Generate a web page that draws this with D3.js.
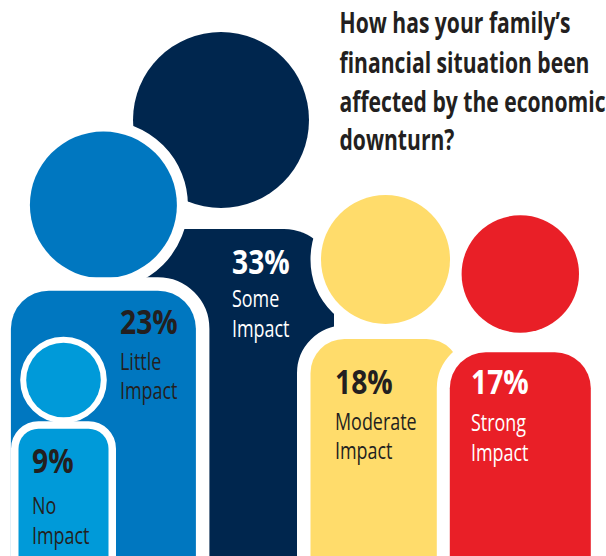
<!DOCTYPE html>
<html>
<head>
<meta charset="utf-8">
<script src="https://cdn.jsdelivr.net/npm/d3@7/dist/d3.min.js"></script>
<style>
  html, body { margin: 0; padding: 0; background: #fff; }
  svg { display: block; }
  text { font-family: "Open Sans", sans-serif; }
</style>
</head>
<body>
<div id="chart"></div>
<script>
// Survey responses, one figure per answer
const categories = ["Some Impact", "Moderate Impact", "Strong Impact", "Little Impact", "No Impact"];
const shares = [33, 18, 17, 23, 9];
const titleLines = ["How has your family\u2019s", "financial situation been", "affected by the economic", "downturn?"];

const W = 606, H = 556;
const svg = d3.select("#chart").append("svg").attr("width", W).attr("height", H);

// Figure size follows the share of respondents
const sizeDomain = [9, 17, 18, 23, 33];
const headRadius = d3.scaleLinear().domain(sizeDomain).range([37.3, 58.7, 64.5, 73.5, 88]);
const bodyWidth = d3.scaleLinear().domain(sizeDomain).range([90, 141, 150, 185, 226]);
const cornerRadius = d3.scaleLinear().domain(sizeDomain).range([20, 36, 34, 38, 50]);

// Placement of each figure within the group
const headX = d3.scaleOrdinal().domain(categories).range([221, 385.5, 520.3, 103.4, 63.5]);
const headY = d3.scaleOrdinal().domain(categories).range([120, 259.5, 274, 205, 380]);
const bodyTop = d3.scaleOrdinal().domain(categories).range([229, 339, 352.3, 290.7, 428.7]);
const headHalo = d3.scaleOrdinal().domain(categories).range([0, 10.5, 0, 11, 6]);
const bodyHalo = d3.scaleOrdinal().domain(categories).range([0, 13.5, 13, 13.5, 7.5]);

const fill = d3.scaleOrdinal().domain(categories).range(["#00264e", "#ffdc6b", "#e91f27", "#0077c0", "#009ad9"]);
const ink = d3.scaleOrdinal().domain(categories).range(["#ffffff", "#231f20", "#ffffff", "#231f20", "#231f20"]);

// Label anchors: left edge, then baselines for the figure and the two words
const labelX = d3.scaleOrdinal().domain(categories).range([232, 335, 471, 120, 32]);
const pctY = d3.scaleOrdinal().domain(categories).range([273.5, 393.5, 393.5, 334, 472.7]);
const lineOneY = d3.scaleOrdinal().domain(categories).range([306.7, 430, 431, 370, 514]);
const lineTwoY = d3.scaleOrdinal().domain(categories).range([336.7, 459, 461, 399, 543.5]);

const people = categories.map((name, i) => ({ name, value: shares[i] }));

const figure = svg.selectAll("g.person").data(people).join("g").attr("class", "person");

figure.append("circle")
  .attr("cx", d => headX(d.name))
  .attr("cy", d => headY(d.name))
  .attr("r", d => headRadius(d.value))
  .attr("fill", d => fill(d.name))
  .attr("stroke", "#fff")
  .attr("stroke-width", d => headHalo(d.name) * 2)
  .style("paint-order", "stroke");

figure.append("rect")
  .attr("x", d => headX(d.name) - bodyWidth(d.value) / 2)
  .attr("y", d => bodyTop(d.name))
  .attr("width", d => bodyWidth(d.value))
  .attr("height", d => H + 80 - bodyTop(d.name))
  .attr("rx", d => cornerRadius(d.value))
  .attr("fill", d => fill(d.name))
  .attr("stroke", "#fff")
  .attr("stroke-width", d => bodyHalo(d.name) * 2)
  .style("paint-order", "stroke");

// Condensed lettering: a horizontal squeeze on the installed humanist face
function place(sel, x, y, squeeze) {
  sel.attr("transform", d => `translate(${x(d)},${y(d)}) scale(${squeeze},1)`);
}

const labels = svg.selectAll("g.label").data(people).join("g").attr("class", "label");

labels.append("text")
  .text(d => `${d.value}%`)
  .attr("font-size", 34)
  .attr("font-weight", 700)
  .attr("fill", d => ink(d.name))
  .call(place, d => labelX(d.name), d => pctY(d.name), 0.83);

labels.append("text")
  .text(d => d.name.split(" ")[0])
  .attr("font-size", 23)
  .attr("fill", d => ink(d.name))
  .call(place, d => labelX(d.name), d => lineOneY(d.name), 0.78);

labels.append("text")
  .text(d => d.name.split(" ")[1])
  .attr("font-size", 23)
  .attr("fill", d => ink(d.name))
  .call(place, d => labelX(d.name), d => lineTwoY(d.name), 0.78);

// Question heading
const titleY = d3.scaleOrdinal().domain(titleLines).range([33, 72.5, 111.5, 150]);
svg.selectAll("text.title").data(titleLines).join("text")
  .attr("class", "title")
  .text(d => d)
  .attr("font-size", 29)
  .attr("font-weight", 700)
  .attr("fill", "#231f20")
  .call(place, () => 339.5, d => titleY(d), 0.728);
</script>
</body>
</html>
